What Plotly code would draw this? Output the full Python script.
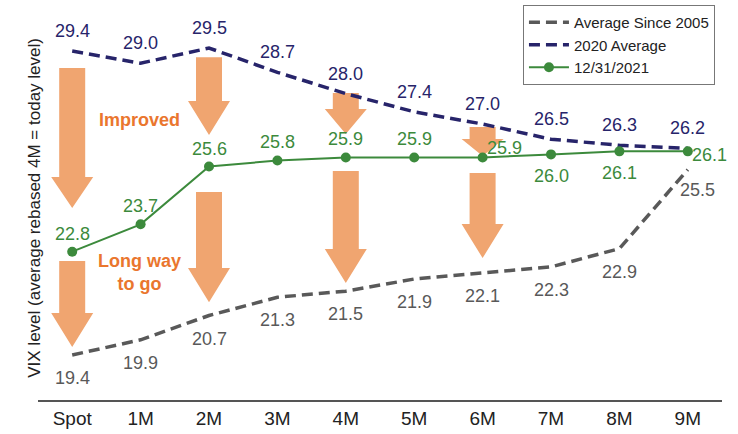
import plotly.graph_objects as go

# ---- data ----
categories = ["Spot", "1M", "2M", "3M", "4M", "5M", "6M", "7M", "8M", "9M"]
avg_since_2005 = [19.4, 19.9, 20.7, 21.3, 21.5, 21.9, 22.1, 22.3, 22.9, 25.5]
avg_2020 = [29.4, 29.0, 29.5, 28.7, 28.0, 27.4, 27.0, 26.5, 26.3, 26.2]
dec_2021 = [22.8, 23.7, 25.6, 25.8, 25.9, 25.9, 25.9, 26.0, 26.1, 26.1]

series_names = ["Average Since 2005", "2020 Average", "12/31/2021"]
y_title = "VIX level (average rebased 4M = today level)"

# arrows: (category index, top value, head-start value, tip value)
arrows = [
    (0, 28.84, 25.26, 24.24),
    (0, 22.49, 20.78, 19.66),
    (2, 29.20, 27.76, 26.64),
    (2, 24.76, 22.26, 21.14),
    (4, 28.02, 27.49, 26.67),
    (4, 25.45, 22.89, 21.77),
    (6, 26.90, 26.51, 25.95),
    (6, 25.39, 23.71, 22.59),
]

FONT = "Liberation Sans, Arial, sans-serif"
GRAY = "#595959"
NAVY = "#27246A"
GREEN = "#3C8A3C"
ARROW = "#F0A570"
ORANGE = "#EA762E"

x = list(range(len(categories)))

fig = go.Figure()
fig.add_trace(go.Scatter(x=x, y=avg_since_2005, mode="lines", name=series_names[0],
                         line=dict(color=GRAY, width=3.5, dash="11px,6px")))
fig.add_trace(go.Scatter(x=x, y=avg_2020, mode="lines", name=series_names[1],
                         line=dict(color=NAVY, width=3.5, dash="11px,6px")))
fig.add_trace(go.Scatter(x=x, y=dec_2021, mode="lines+markers", name=series_names[2],
                         line=dict(color=GREEN, width=2), marker=dict(color=GREEN, size=10)))

shapes = []
sw, hw = 0.19, 0.307
for cx, top, hs, tip in arrows:
    path = (f"M {cx-sw},{top} L {cx+sw},{top} L {cx+sw},{hs} L {cx+hw},{hs} "
            f"L {cx},{tip} L {cx-hw},{hs} L {cx-sw},{hs} Z")
    shapes.append(dict(type="path", path=path, xref="x", yref="y",
                       fillcolor=ARROW, line=dict(width=0), layer="below"))

annotations = []
lab_size = 18
# blue labels above
for i, v in enumerate(avg_2020):
    annotations.append(dict(x=i, y=v, xref="x", yref="y", text=f"{v:.1f}", showarrow=False,
                            yshift=20, font=dict(family=FONT, size=lab_size, color=NAVY)))
# green labels
for i, v in enumerate(dec_2021):
    xs, ys, xa = 0, 18, "center"
    if i in (7, 8):
        ys = -22
    if i == 6:
        xs, ys = 22, 9
    if i == 9:
        xs, ys, xa = 2, -4, "left"
    annotations.append(dict(x=i, y=v, xref="x", yref="y", text=f"{v:.1f}", showarrow=False,
                            xshift=xs, yshift=ys, xanchor=xa,
                            font=dict(family=FONT, size=lab_size, color=GREEN)))
# gray labels below
for i, v in enumerate(avg_since_2005):
    xs, ys = 0, -23
    if i == 9:
        xs, ys = 10, -20
    annotations.append(dict(x=i, y=v, xref="x", yref="y", text=f"{v:.1f}", showarrow=False,
                            xshift=xs, yshift=ys, font=dict(family=FONT, size=lab_size, color=GRAY)))

annotations.append(dict(x=0.98, y=27.13, xref="x", yref="y", text="<b>Improved</b>", showarrow=False,
                        font=dict(family=FONT, size=18, color=ORANGE)))
annotations.append(dict(x=0.98, y=22.13, xref="x", yref="y", text="<b>Long way<br>to go</b>",
                        showarrow=False, font=dict(family=FONT, size=18, color=ORANGE)))
annotations.append(dict(x=-0.023, y=0.48, xref="paper", yref="paper", text=y_title, textangle=-90,
                        showarrow=False, font=dict(family=FONT, size=17, color="#222222")))

fig.update_layout(
    width=738, height=434,
    margin=dict(l=38, r=16, t=0, b=34),
    paper_bgcolor="white", plot_bgcolor="white",
    font=dict(family=FONT, color="#222222"),
    shapes=shapes, annotations=annotations,
    legend=dict(x=0.709, y=0.9875, xanchor="left", yanchor="top",
                bordercolor="#777777", borderwidth=1, bgcolor="white",
                font=dict(family=FONT, size=15, color="#222222"),
                tracegroupgap=0, itemwidth=40),
    xaxis=dict(range=[-0.5, 9.5], tickvals=x, ticktext=categories, showgrid=False, zeroline=False,
               showline=True, linecolor="#555555", linewidth=1.5, ticks="",
               tickfont=dict(family=FONT, size=19, color="#222222")),
    yaxis=dict(range=[17.92, 31.08], showgrid=False, zeroline=False, showline=False,
               showticklabels=False, ticks=""),
)

fig.write_html("out.html")
